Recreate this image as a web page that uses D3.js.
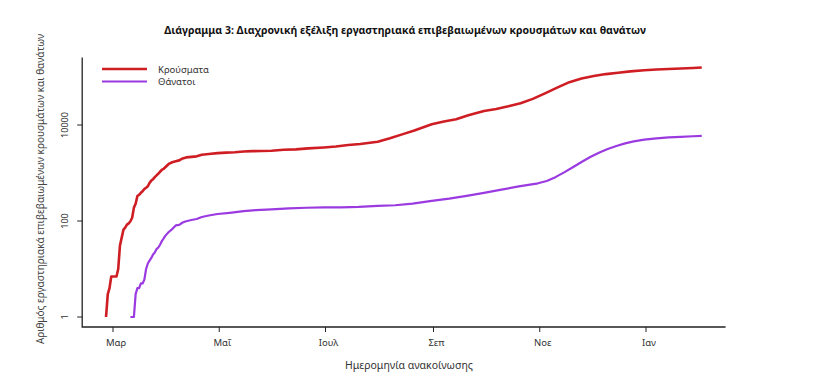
<!DOCTYPE html>
<html>
<head>
<meta charset="utf-8">
<script src="https://cdn.jsdelivr.net/npm/d3@7"></script>
<style>
  body { margin: 0; background: #fff; }
  text { font-family: "Noto Sans", "Open Sans", sans-serif; }
</style>
</head>
<body>
<div id="chart"></div>
<script>
// Cumulative confirmed cases (announcement date, value)
const caseDates = [
  "2020-02-26","2020-02-27","2020-02-28","2020-02-29","2020-03-01","2020-03-02","2020-03-03",
  "2020-03-04","2020-03-05","2020-03-06","2020-03-07","2020-03-08","2020-03-09","2020-03-10",
  "2020-03-11","2020-03-12","2020-03-13","2020-03-14","2020-03-15","2020-03-16","2020-03-17",
  "2020-03-18","2020-03-19","2020-03-20","2020-03-21","2020-03-22","2020-03-23","2020-03-24",
  "2020-03-25","2020-03-26","2020-03-27","2020-03-28","2020-03-29","2020-03-30","2020-03-31",
  "2020-04-02","2020-04-04","2020-04-06","2020-04-08","2020-04-10","2020-04-12","2020-04-15",
  "2020-04-18","2020-04-21","2020-04-25","2020-04-30","2020-05-05","2020-05-10","2020-05-15",
  "2020-05-20","2020-05-25","2020-05-31","2020-06-07","2020-06-14","2020-06-21","2020-06-30",
  "2020-07-07","2020-07-14","2020-07-21","2020-07-31","2020-08-07","2020-08-14","2020-08-21",
  "2020-08-31","2020-09-07","2020-09-14","2020-09-21","2020-09-30","2020-10-07","2020-10-14",
  "2020-10-21","2020-10-28","2020-11-04","2020-11-11","2020-11-18","2020-11-25","2020-12-02",
  "2020-12-09","2020-12-16","2020-12-23","2020-12-31","2021-01-07","2021-01-14","2021-01-21",
  "2021-01-28","2021-02-02"
];
const caseValues = [
  1, 3, 4, 7, 7, 7, 7,
  10, 31, 45, 66, 73, 84, 89,
  99, 117, 190, 228, 331, 352, 387,
  418, 464, 495, 530, 624, 695, 743,
  821, 892, 966, 1061, 1156, 1212, 1314,
  1544, 1673, 1755, 1832, 2011, 2114, 2170,
  2224, 2401, 2490, 2591, 2663, 2710, 2810,
  2850, 2878, 2917, 3049, 3112, 3256, 3409,
  3562, 3826, 4007, 4477, 5270, 6381, 7684,
  10317, 11832, 13200, 15928, 19613, 21500, 24500,
  28500, 35000, 45500, 60000, 78000, 93000, 105000,
  115000, 123000, 131000, 138000, 143000, 147000, 150500,
  154000, 157500
];

// Cumulative deaths
const deathDates = [
  "2020-03-11","2020-03-13","2020-03-14","2020-03-15","2020-03-16","2020-03-17","2020-03-18",
  "2020-03-19","2020-03-20","2020-03-21","2020-03-22","2020-03-23","2020-03-24","2020-03-25",
  "2020-03-26","2020-03-27","2020-03-28","2020-03-29","2020-03-30","2020-03-31","2020-04-02",
  "2020-04-04","2020-04-06","2020-04-08","2020-04-10","2020-04-12","2020-04-15","2020-04-18",
  "2020-04-21","2020-04-25","2020-04-30","2020-05-07","2020-05-15","2020-05-22","2020-05-31",
  "2020-06-10","2020-06-20","2020-06-30","2020-07-10","2020-07-20","2020-07-31","2020-08-10",
  "2020-08-20","2020-08-31","2020-09-10","2020-09-20","2020-09-30","2020-10-10","2020-10-20",
  "2020-10-31","2020-11-05","2020-11-10","2020-11-15","2020-11-20","2020-11-25","2020-11-30",
  "2020-12-05","2020-12-10","2020-12-15","2020-12-20","2020-12-25","2020-12-31","2021-01-07",
  "2021-01-14","2021-01-21","2021-01-28","2021-02-02"
];
const deathValues = [
  1, 1, 3, 4, 4, 5, 5,
  6, 10, 13, 15, 17, 20, 22,
  26, 28, 32, 38, 43, 49, 59,
  68, 81, 83, 93, 99, 105, 110,
  121, 130, 140, 148, 160, 169, 175,
  183, 189, 192, 193, 197, 206, 213,
  230, 262, 292, 335, 385, 450, 525,
  610, 680, 820, 1030, 1320, 1700, 2150,
  2650, 3150, 3650, 4150, 4550, 4950, 5250,
  5500, 5680, 5830, 5930
];

const monthTicks = ["2020-03-01","2020-05-01","2020-07-01","2020-09-01","2020-11-01","2021-01-01"];
const monthLabels = ["Μαρ","Μαΐ","Ιουλ","Σεπ","Νοε","Ιαν"];
const yTicks = [1, 100, 10000];

const seriesNames = ["Κρούσματα", "Θάνατοι"];
const seriesColors = ["#cf1d24", "#9a3ae0"];

const width = 840, height = 380;
const parseDate = d3.timeParse("%Y-%m-%d");

const cases = caseDates.map((d, i) => ({date: parseDate(d), value: caseValues[i]}));
const deaths = deathDates.map((d, i) => ({date: parseDate(d), value: deathValues[i]}));

const svg = d3.select("#chart")
  .append("svg")
  .attr("width", width)
  .attr("height", height);

// Scales
const xScale = d3.scaleTime()
  .domain([parseDate(monthTicks[0]), parseDate(monthTicks[5])])
  .range([113, 646]);

const yScale = d3.scaleLog()
  .domain([1, 10000])
  .range([317, 125]);

// Plot frame edges (R-style 4% padding around the data)
const xAll = cases.map(d => xScale(d.date));
const xPad = (d3.max(xAll) - d3.min(xAll)) * 0.04;
const frameLeft = d3.min(xAll) - xPad, frameRight = d3.max(xAll) + xPad;
const yHigh = yScale(d3.max(caseValues)), yLow = yScale(1);
const yPad = (yLow - yHigh) * 0.04;
const frameTop = yHigh - yPad, frameBottom = yLow + yPad;

svg.append("path")
  .attr("d", `M${frameLeft},${frameTop}V${frameBottom}H${frameRight}`)
  .attr("fill", "none")
  .attr("stroke", "#222")
  .attr("stroke-width", 1.3);

// x-axis ticks
const xAxis = svg.append("g");
monthTicks.forEach((t, i) => {
  const x = xScale(parseDate(t));
  xAxis.append("line")
    .attr("x1", x).attr("x2", x)
    .attr("y1", frameBottom).attr("y2", frameBottom + 5)
    .attr("stroke", "#222");
  xAxis.append("text")
    .attr("x", x + 3)
    .attr("y", frameBottom + 19)
    .attr("text-anchor", "middle")
    .attr("font-size", 9.5)
    .attr("fill", "#333")
    .text(monthLabels[i]);
});

// y-axis ticks
const yAxis = svg.append("g");
yTicks.forEach(t => {
  const y = yScale(t);
  yAxis.append("line")
    .attr("x1", frameLeft - 5).attr("x2", frameLeft)
    .attr("y1", y).attr("y2", y)
    .attr("stroke", "#222");
  yAxis.append("text")
    .attr("transform", `translate(${frameLeft - 14},${y}) rotate(-90)`)
    .attr("text-anchor", "middle")
    .attr("font-size", 9)
    .attr("fill", "#333")
    .text(t);
});

// Lines
const line = d3.line()
  .x(d => xScale(d.date))
  .y(d => yScale(d.value));

[cases, deaths].forEach((s, i) => {
  svg.append("path")
    .datum(s)
    .attr("fill", "none")
    .attr("stroke", seriesColors[i])
    .attr("stroke-width", i === 0 ? 2.6 : 2.2)
    .attr("stroke-linejoin", "round")
    .attr("d", line);
});

// Title
svg.append("text")
  .attr("x", 405)
  .attr("y", 34)
  .attr("text-anchor", "middle")
  .attr("font-size", 10.5)
  .attr("font-weight", "bold")
  .attr("fill", "#111")
  .text("Διάγραμμα 3: Διαχρονική εξέλιξη εργαστηριακά επιβεβαιωμένων κρουσμάτων και θανάτων");

// Axis titles
svg.append("text")
  .attr("x", 409)
  .attr("y", 369)
  .attr("text-anchor", "middle")
  .attr("font-size", 10.5)
  .attr("fill", "#333")
  .text("Ημερομηνία ανακοίνωσης");

svg.append("text")
  .attr("transform", "translate(44,189) rotate(-90)")
  .attr("text-anchor", "middle")
  .attr("font-size", 10)
  .attr("fill", "#444")
  .text("Αριθμός εργαστηριακά επιβεβαιωμένων κρουσμάτων και θανάτων");

// Legend
const legend = svg.selectAll(".legend")
  .data(seriesNames)
  .enter().append("g")
  .attr("transform", (d, i) => `translate(102,${69 + i * 12.5})`);

legend.append("line")
  .attr("x1", 0).attr("x2", 45)
  .attr("stroke", (d, i) => seriesColors[i])
  .attr("stroke-width", (d, i) => i === 0 ? 2.6 : 2.2);

legend.append("text")
  .attr("x", 56)
  .attr("y", 3.5)
  .attr("font-size", 9.5)
  .attr("fill", "#333")
  .text(d => d);
</script>
</body>
</html>
